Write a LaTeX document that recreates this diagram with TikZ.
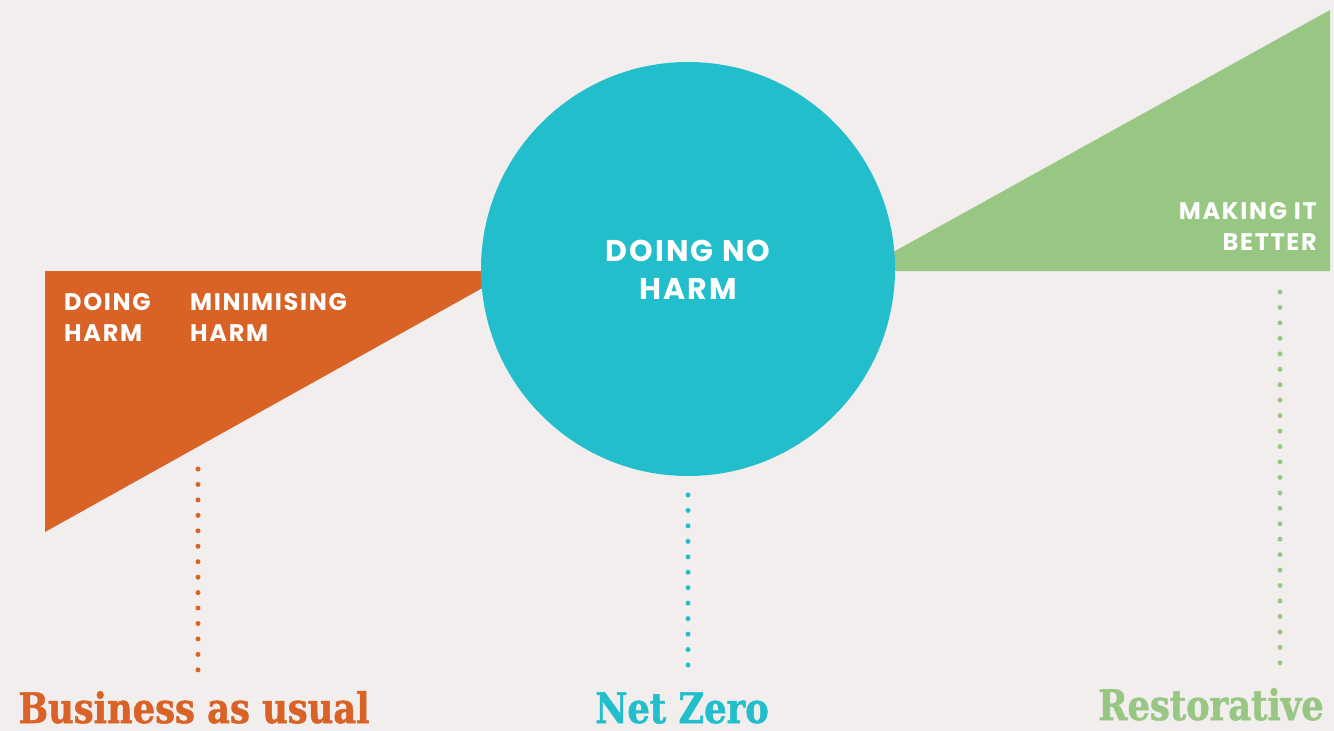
\documentclass[tikz,border=0pt]{standalone}
\usepackage{fontspec}
\setsansfont{Poppins}[LetterSpace=7]
\newfontfamily\outcomefont{DejaVu Serif}[FakeStretch=0.84, FakeBold=1.2]
\usetikzlibrary{positioning}
\definecolor{paper}{HTML}{F1EEED}
\definecolor{harm}{HTML}{D96327}
\definecolor{netzero}{HTML}{22BECC}
\definecolor{restore}{HTML}{98C683}
\tikzset{
  stage/.style={
    text=white,
    inner sep=0pt,
    font=\sffamily\bfseries\fontsize{24}{31}\selectfont
  },
  outcome/.style={
    inner sep=0pt,
    anchor=base,
    font=\outcomefont\bfseries\fontsize{42}{42}\selectfont
  },
  dotline/.style={
    line width=5pt,
    line cap=round,
    dash pattern=on 0pt off 15.45pt
  }
}

\begin{document}
\begin{tikzpicture}[x=1pt, y=-1pt]
    \fill[paper] (0,0) rectangle (1334,731);
    \useasboundingbox (0,0) rectangle (1334,731);
    % wedges and circle
    \fill[harm] (45,271) -- (513,271) -- (45,532) -- cycle;
    \fill[restore] (859,271) -- (1330,271) -- (1330,10) -- cycle;
    \node[circle, fill=netzero, minimum size=414pt, inner sep=0pt] (zero) at (688,269) {};
    % stage labels
    \node[stage, anchor=north west, align=left] (doing) at (64,293) {DOING\\HARM};
    \node[stage, anchor=north west, align=left] (minimising) at (190,293) {MINIMISING\\HARM};
    \node[stage, anchor=north, align=center, font=\sffamily\bfseries\fontsize{30}{38}\selectfont] (noharm) at (688,240) {DOING NO\\HARM};
    \node[stage, anchor=north east, align=right] (better) at (1317,202) {MAKING IT\\BETTER};
    % outcome labels
    \node[outcome, text=harm] (bau) at (194,723) {Business as usual};
    \node[outcome, text=netzero] (nz) at (682,723) {Net Zero};
    \node[outcome, text=restore] (rest) at (1211,720) {Restorative};
    % dotted leaders
    \coordinate (bau top) at (198,469);
    \coordinate (bau end) at (198,670.5);
    \coordinate (nz top) at (688,495);
    \coordinate (nz end) at (688,665.5);
    \coordinate (rest top) at (1280,292);
    \coordinate (rest end) at (1280,663.3);
    \draw[dotline, harm] (bau top) -- (bau end);
    \draw[dotline, netzero] (nz top) -- (nz end);
    \draw[dotline, restore] (rest top) -- (rest end);
\end{tikzpicture}
\end{document}
